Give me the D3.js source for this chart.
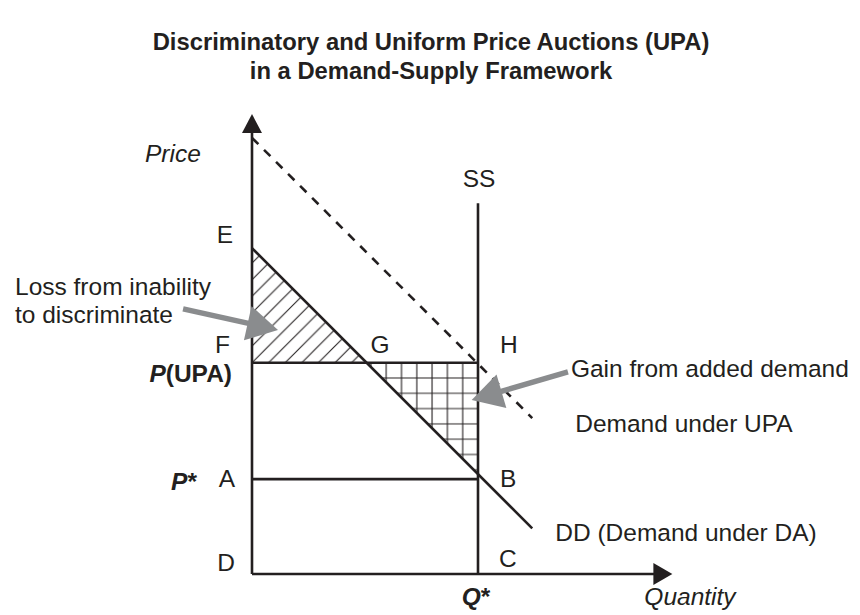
<!DOCTYPE html>
<html><head><meta charset="utf-8">
<script src="https://cdn.jsdelivr.net/npm/d3@7"></script>
<style>
html,body{margin:0;padding:0;background:#fff;}
svg{display:block;}
text{font-family:"Liberation Sans",Arial,Helvetica,sans-serif;fill:#231f20;}
</style></head><body><svg id="chart" width="860" height="615"></svg>
<script>
// ---------------- data (quantity, price) in chart units ----------------
const titleLines = ["Discriminatory and Uniform Price Auctions (UPA)", "in a Demand-Supply Framework"];
const axisTitles = ["Quantity", "Price"];
const axisEnds = [18.6, 20.35];          // quantity axis end, price axis end
const qStar = 10;
const pStar = 4.2;
const pUPA = 9.35;
const ssTop = 16.4;
const ddQ = [0, 12.4];
const ddP = [14.42, 2.02];
const upaQ = [0, 12.4];
const upaP = [19.3, 6.9];
const pointNames = ["E", "F", "G", "H", "A", "B", "C", "D"];
const pointQ = [0, 0, 5.07, 10, 0, 10, 10, 0];
const pointP = [14.42, 9.35, 9.35, 9.35, 4.2, 4.42, 0, 0];
const curveLabels = ["SS", "Demand under UPA", "DD (Demand under DA)"];
const noteLabels = ["Loss from inability", "to discriminate", "Gain from added demand"];
const arrowTailQ = [-3.05, 13.98];
const arrowTailP = [11.73, 8.94];
const arrowTipQ = [1.15, 9.72];
const arrowTipP = [10.8, 7.7];

// ---------------- layout ----------------
const svg = d3.select("#chart");
const x = d3.scaleLinear().domain([0, 20]).range([252, 704]);
const y = d3.scaleLinear().domain([0, 20]).range([574, 122]);
const INK = "#231f20", GRAY = "#8a8c8e", FS = 24.5;
const line = d3.line().x(d => x(d[0])).y(d => y(d[1]));

// patterns
const defs = svg.append("defs");
const dw = 16.6;
const diag = defs.append("pattern").attr("id", "diag").attr("patternUnits", "userSpaceOnUse")
  .attr("x", x(0)).attr("y", y(pUPA)).attr("width", dw).attr("height", dw);
diag.append("path").attr("d", `M0,${dw} L${dw},0 M${-dw/2},${dw/2} L${dw/2},${-dw/2} M${dw/2},${dw*1.5} L${dw*1.5},${dw/2}`)
  .attr("stroke", INK).attr("stroke-width", 1.1).attr("fill", "none");
const gw = 15.3;
const grid = defs.append("pattern").attr("id", "grid").attr("patternUnits", "userSpaceOnUse")
  .attr("x", x(qStar)).attr("y", y(pUPA)).attr("width", gw).attr("height", gw);
grid.append("path").attr("d", `M0,0 H${gw} M0,${gw} H${gw} M0,0 V${gw} M${gw},0 V${gw}`)
  .attr("stroke", INK).attr("stroke-width", 1.1).attr("fill", "none");

// hatched areas
const gQ = pointQ[2];
const ddAt = q => ddP[0] + (ddP[1] - ddP[0]) * (q - ddQ[0]) / (ddQ[1] - ddQ[0]);
svg.append("path").attr("d", line([[0, ddP[0]], [0, pUPA], [gQ, pUPA]]) + "Z").attr("fill", "url(#diag)");
svg.append("path").attr("d", line([[gQ, pUPA], [qStar, pUPA], [qStar, ddAt(qStar)]]) + "Z").attr("fill", "url(#grid)");

// axes
const SW = 2.6;
svg.append("path").attr("d", line([[0, 0], [0, axisEnds[1] - 18 / 22.6]]))
  .attr("stroke", INK).attr("stroke-width", SW).attr("fill", "none");
svg.append("path").attr("d", line([[0, 0], [axisEnds[0] - 18 / 22.6, 0]]))
  .attr("stroke", INK).attr("stroke-width", SW).attr("fill", "none");
const ty = y(axisEnds[1]), tx = x(axisEnds[0]);
svg.append("path").attr("d", `M${x(0)},${ty} L${x(0) + 10},${ty + 19} L${x(0) - 10},${ty + 19}Z`).attr("fill", INK);
svg.append("path").attr("d", `M${tx},${y(0)} L${tx - 19},${y(0) - 11} L${tx - 19},${y(0) + 11}Z`).attr("fill", INK);

// lines
const strokeIt = s => s.attr("stroke", INK).attr("stroke-width", SW).attr("fill", "none");
strokeIt(svg.append("path").attr("d", line([[qStar, 0], [qStar, ssTop]])));
strokeIt(svg.append("path").attr("d", line([[0, pUPA], [qStar, pUPA]])));
strokeIt(svg.append("path").attr("d", line([[0, pStar], [qStar, pStar]])));
strokeIt(svg.append("path").attr("d", line(ddQ.map((q, i) => [q, ddP[i]]))));
strokeIt(svg.append("path").attr("d", line(upaQ.map((q, i) => [q, upaP[i]])))).attr("stroke-dasharray", "9,8");

// pointer arrows
arrowTailQ.forEach((_, i) => {
  const x0 = x(arrowTailQ[i]), y0 = y(arrowTailP[i]), x1 = x(arrowTipQ[i]), y1 = y(arrowTipP[i]);
  const dx = x1 - x0, dy = y1 - y0, L = Math.hypot(dx, dy), ux = dx / L, uy = dy / L;
  const hl = 31, hw = 17.5;
  const bx = x1 - ux * hl, by = y1 - uy * hl;
  svg.append("line").attr("x1", x0).attr("y1", y0).attr("x2", bx + ux * 2).attr("y2", by + uy * 2)
    .attr("stroke", GRAY).attr("stroke-width", 5.5);
  svg.append("path").attr("d", `M${x1},${y1} L${bx - uy * hw},${by + ux * hw} L${bx + uy * hw},${by - ux * hw}Z`).attr("fill", GRAY);
});

// text helpers
const txt = (t, px, py, anchor = "start", extra = {}) => {
  const e = svg.append("text").attr("x", px).attr("y", py).attr("text-anchor", anchor).attr("font-size", FS).text(t);
  Object.entries(extra).forEach(([k, v]) => e.attr(k, v));
  return e;
};

// title
titleLines.forEach((t, i) => txt(t, 431, 50 + i * 29, "middle", {"font-weight": "bold", "font-size": 23.8}));

// point labels
const offs = [[-19, -5, "end"], [-22, -10, "end"], [4, -10, "start"], [22, -10, "start"],
              [-17, 8, "end"], [22, 13, "start"], [21, -7, "start"], [-17, -3, "end"]];
pointNames.forEach((n, i) => txt(n, x(pointQ[i]) + offs[i][0], y(pointP[i]) + offs[i][1], offs[i][2]));

// axis titles
txt(axisTitles[0], x(axisEnds[0]) - 28, y(0) + 31, "start", {"font-style": "italic"});
txt(axisTitles[1], x(0) - 107, y(axisEnds[1]) + 48, "start", {"font-style": "italic"});

// price / quantity markers
const pu = txt("", x(0) - 20, y(pUPA) + 19, "end", {"font-weight": "bold"});
pu.append("tspan").attr("font-style", "italic").text("P");
pu.append("tspan").text("(UPA)");
const ps = txt("", x(0) - 55, y(pStar) + 11, "end", {"font-weight": "bold"});
ps.append("tspan").attr("font-style", "italic").text("P");
ps.append("tspan").text("*");
const qs = txt("", x(qStar) - 2, y(0) + 31, "middle", {"font-weight": "bold"});
qs.append("tspan").attr("font-style", "italic").text("Q");
qs.append("tspan").text("*");

// curve labels
txt(curveLabels[0], x(qStar) + 1, y(ssTop) - 16, "middle");
txt(curveLabels[1], x(upaQ[1]) + 43, y(upaP[1]) + 14, "start");
txt(curveLabels[2], x(ddQ[1]) + 23, y(ddP[1]) + 13, "start");

// notes
txt(noteLabels[0], 15, 295, "start");
txt(noteLabels[1], 15, 323, "start");
txt(noteLabels[2], x(arrowTailQ[1]) + 3, y(arrowTailP[1]) + 5, "start");
</script></body></html>
